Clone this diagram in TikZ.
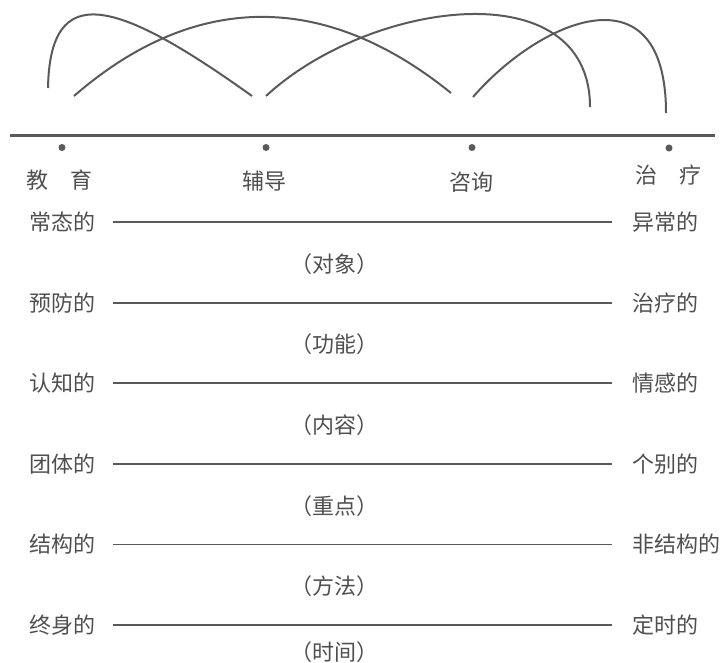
\documentclass[tikz,border=0pt]{standalone}
\usepackage{fontspec}
\newfontfamily\cjk{Noto Sans CJK SC}
\usepackage{tikz}
\usetikzlibrary{positioning}
\definecolor{inkgray}{HTML}{4F4F4F}
\definecolor{lngray}{HTML}{5A5A5A}
\tikzset{
  lbl/.style = {inner sep=0pt, text=inkgray},
  dot/.style = {circle, fill=lngray, inner sep=0pt, minimum size=7pt},
  bar/.style = {draw=lngray, line width=1.8pt, shorten <=18pt, shorten >=20pt},
  arc/.style = {draw=lngray, line width=2pt}
}

\begin{document}
\begin{tikzpicture} [x=1pt, y=-1pt, node distance = 80.6pt, on grid,
                     font=\cjk\fontsize{22}{26}\selectfont]
   \useasboundingbox (0,0) rectangle (725,662);

   % overlapping ranges
   \draw[arc] (48,88) .. controls (50,-20) and (115,-2) .. (252,96);
   \draw[arc] (74,96) .. controls (195,-9) and (325,-9) .. (451,93);
   \draw[arc] (266,96) .. controls (370,0) and (590,-30) .. (590,107);
   \draw[arc] (473,97) .. controls (540,20) and (666,-35) .. (666,113);

   % axis
   \coordinate (axl) at (10,135.5);
   \coordinate (axr) at (715,135.5);
   \draw[lngray, line width=2.2pt] (axl) -- (axr);

   \node (d1)[dot] at (62,147.5) {};
   \node (d2)[dot] at (266,147.5) {};
   \node (d3)[dot] at (472,147.5) {};
   \node (d4)[dot] at (669,148) {};

   \node (edu)[lbl] at (60,180) {教\quad 育};
   \node (gui)[lbl] at (264,181) {辅导};
   \node (cou)[lbl] at (471,182) {咨询};
   \node (the)[lbl] at (668,175) {治\quad 疗};

   % dimensions
   \coordinate (rx) at (632,0);
   \node (l1)[lbl] at (62,222) {常态的};
   \node (l2)[lbl, below = of l1] {预防的};
   \node (l3)[lbl, below = of l2] {认知的};
   \node (l4)[lbl, below = of l3] {团体的};
   \node (l5)[lbl, below = of l4] {结构的};
   \node (l6)[lbl, below = of l5] {终身的};

   \node (r1)[lbl, anchor=west] at (l1 -| rx) {异常的};
   \node (r2)[lbl, anchor=west] at (l2 -| rx) {治疗的};
   \node (r3)[lbl, anchor=west] at (l3 -| rx) {情感的};
   \node (r4)[lbl, anchor=west] at (l4 -| rx) {个别的};
   \node (r5)[lbl, anchor=west] at (l5 -| rx) {非结构的};
   \node (r6)[lbl, anchor=west] at (l6 -| rx) {定时的};

   \path[bar] (l1) -- (r1);
   \path[bar] (l2) -- (r2);
   \path[bar] (l3) -- (r3);
   \path[bar] (l4) -- (r4);
   \path[bar] (l5) -- (r5);
   \path[bar] (l6) -- (r6);

   \node (c1)[lbl] at (334,264) {（对象）};
   \node (c2)[lbl, below = of c1] {（功能）};
   \node (c3)[lbl, below = of c2] {（内容）};
   \node (c4)[lbl, below = of c3] {（重点）};
   \node (c5)[lbl, below = of c4] {（方法）};
   \node (c6)[lbl, below = 66pt of c5] {（时间）};
\end{tikzpicture}
\end{document}
